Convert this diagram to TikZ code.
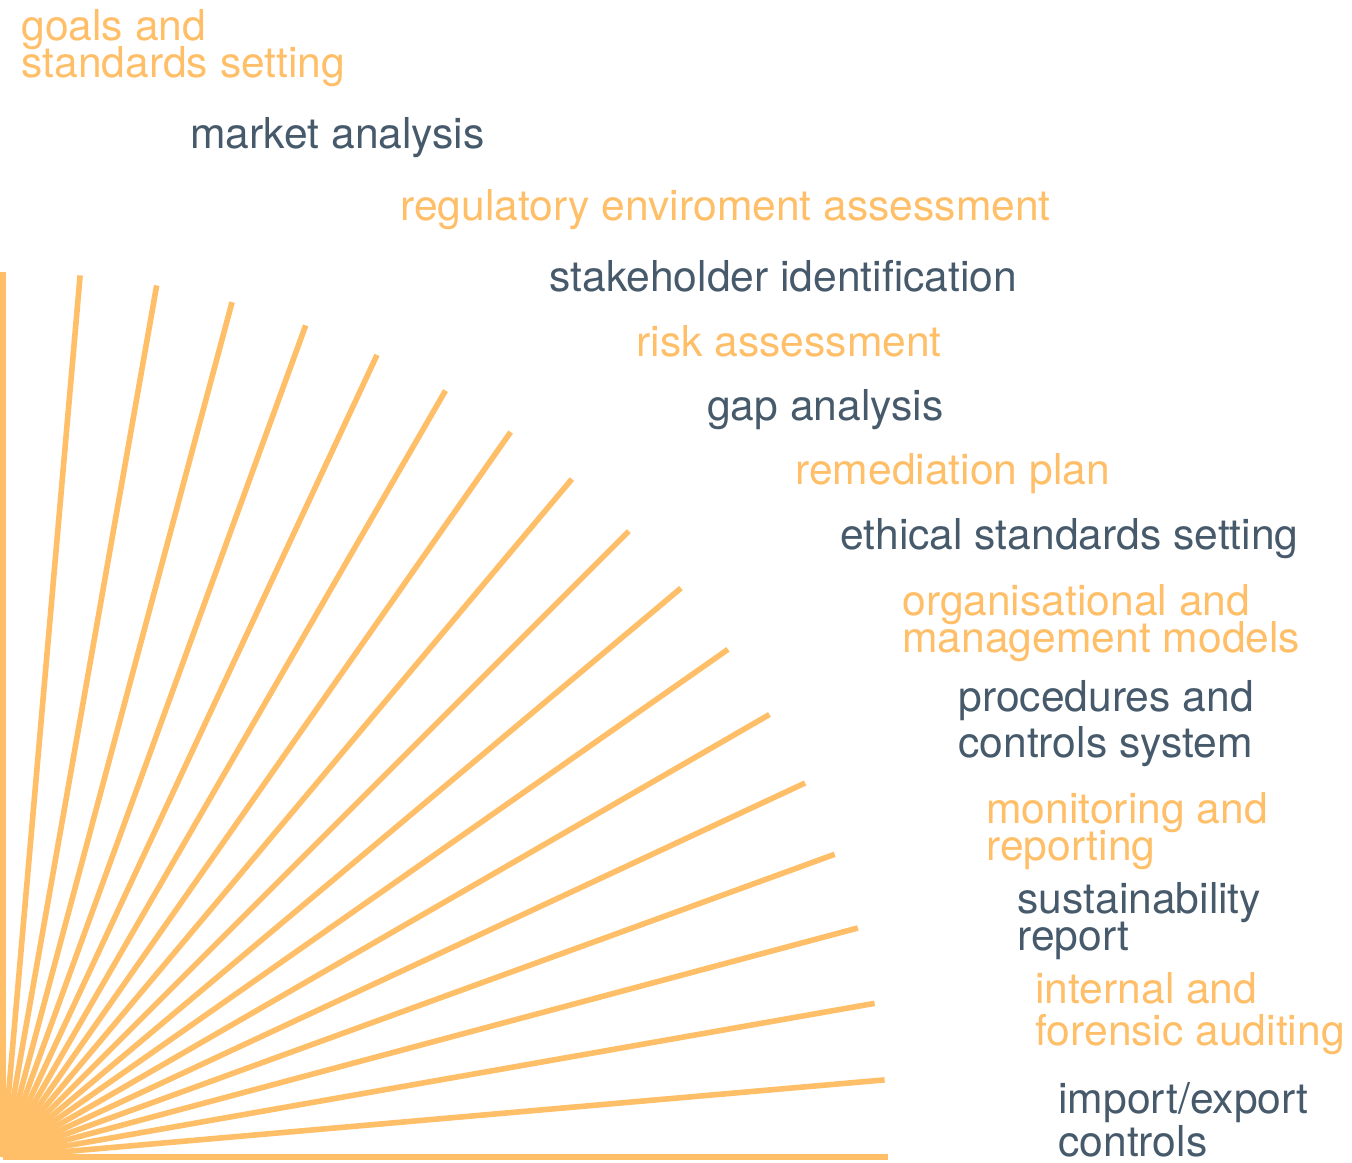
\documentclass[tikz,border=0pt]{standalone}
\usepackage{fontspec}
\setmainfont{TeX Gyre Heros}
\definecolor{sunny}{HTML}{FFBF69}
\definecolor{slate}{HTML}{465A6B}
\newcommand\lblfont{\fontsize{21.3}{18.5}\selectfont\setlength{\lineskiplimit}{-50pt}}

\begin{document}
\begin{tikzpicture}[x=0.5pt, y=-0.5pt,
  ray/.style={draw=sunny, line width=2.8pt},
  lbl/.style={anchor=base west, inner sep=0pt, align=left, font=\lblfont},
  warm/.style={lbl, text=sunny},
  cool/.style={lbl, text=slate}]
  \useasboundingbox (0,0) rectangle (1352,1162);
  \coordinate (sun) at (3,1157);
  \foreach \a in {0,5,...,90}
    \draw [ray] (sun) -- ++(-\a:885);

  % two-line labels sit on the baseline of their last line
  \node [warm] (goals) at (21,77) {goals and\\standards setting};
  \node [cool] (market) at (190,148) {market analysis};
  \node [warm] (regul) at (400,220) {regulatory enviroment assessment};
  \node [cool] (stake) at (549,291) {stakeholder identification};
  \node [warm] (risk) at (636,356) {risk assessment};
  \node [cool] (gap) at (707,420) {gap analysis};
  \node [warm] (remed) at (795,484) {remediation plan};
  \node [cool] (ethic) at (840,549) {ethical standards setting};
  \node [warm] (organ) at (902,652) {organisational and\\management models};
  \node [cool] (proc) at (958,757) {procedures and\\[4.5pt]controls system};
  \node [warm] (monit) at (986,860) {monitoring and\\reporting};
  \node [cool] (sustain) at (1017,950) {sustainability\\report};
  \node [warm] (audit) at (1035,1045) {internal and\\[2.5pt]forensic auditing};
  \node [cool] (import) at (1058,1156) {import/export\\[3pt]controls};
\end{tikzpicture}
\end{document}
